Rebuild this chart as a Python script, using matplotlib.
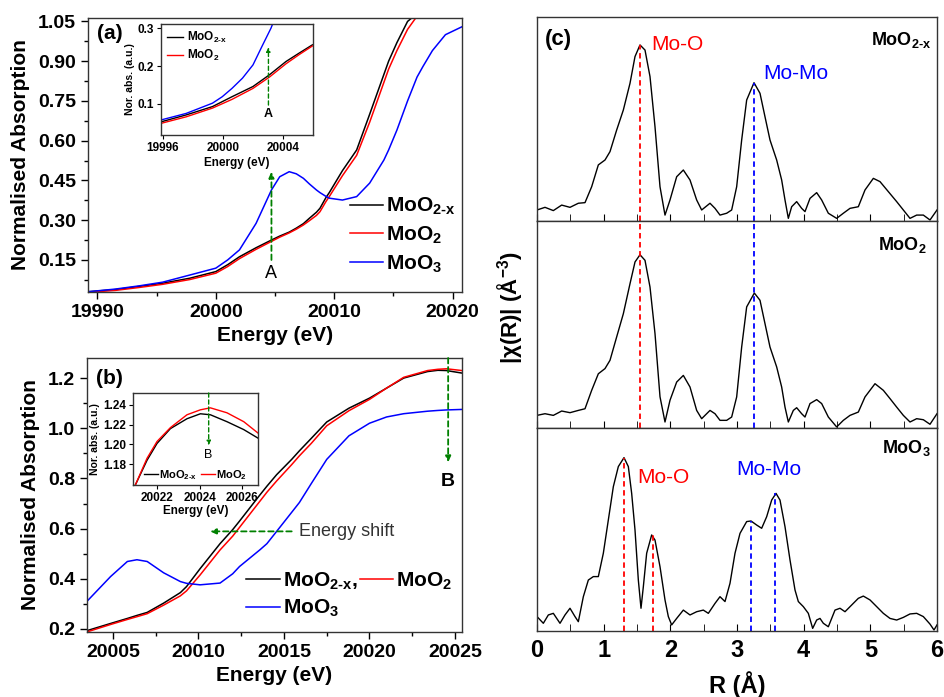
import matplotlib
matplotlib.use("Agg")
import matplotlib.pyplot as plt
from matplotlib.ticker import MultipleLocator, FormatStrFormatter

plt.rcParams['font.family'] = ['Liberation Sans', 'DejaVu Sans']
plt.rcParams['font.weight'] = 'bold'
plt.rcParams['axes.labelweight'] = 'bold'
plt.rcParams['mathtext.fontset'] = 'custom'
plt.rcParams['mathtext.rm'] = 'Liberation Sans:bold'
plt.rcParams['mathtext.it'] = 'Liberation Sans:bold'
plt.rcParams['mathtext.bf'] = 'Liberation Sans:bold'
plt.rcParams['axes.linewidth'] = 1.0
plt.rcParams['axes.edgecolor'] = '#333333'

# ---- panel (a): XANES pre-edge / edge
energy_a = [19989.2, 19991.5, 19993.5, 19995.5, 19997.8, 20000.0, 20001.0, 20002.0, 20003.4,
            20004.7, 20005.4, 20006.2, 20006.8, 20007.4, 20007.9, 20008.5, 20008.8, 20009.3,
            20009.6, 20010.7, 20011.9, 20013.0, 20014.2, 20014.6, 20015.3, 20016.2, 20017.0,
            20017.5, 20018.3, 20019.4, 20020.8]
moo2x_a = [0.030, 0.038, 0.050, 0.062, 0.081, 0.106, 0.132, 0.162, 0.196,
           0.225, 0.240, 0.255, 0.270, 0.287, 0.307, 0.330, 0.345, 0.385,
           0.405, 0.487, 0.565, 0.700, 0.850, 0.900, 0.970, 1.050, 1.080,
           1.100, 1.120, 1.130, 1.140]
moo2_a = [0.028, 0.035, 0.046, 0.058, 0.076, 0.100, 0.125, 0.155, 0.190,
          0.220, 0.236, 0.252, 0.266, 0.282, 0.298, 0.318, 0.332, 0.370,
          0.390, 0.468, 0.545, 0.670, 0.820, 0.870, 0.940, 1.020, 1.070,
          1.090, 1.110, 1.125, 1.135]
moo3_a = [0.030, 0.040, 0.052, 0.066, 0.093, 0.119, 0.150, 0.188, 0.288,
          0.414, 0.464, 0.483, 0.475, 0.458, 0.437, 0.414, 0.404, 0.390,
          0.383, 0.376, 0.389, 0.440, 0.527, 0.565, 0.640, 0.750, 0.840,
          0.880, 0.940, 1.000, 1.030]

# inset of (a)
energy_ai = [19995.9, 19997.55, 19999.3, 20000.6, 20002.0, 20003.1, 20004.2, 20005.07, 20005.96]
moo2x_ai = [0.053, 0.071, 0.093, 0.119, 0.146, 0.177, 0.212, 0.234, 0.256]
moo2_ai = [0.049, 0.066, 0.089, 0.112, 0.141, 0.171, 0.206, 0.230, 0.253]
energy_ai_moo3 = [19995.9, 19997.55, 19999.3, 19999.95, 20000.6, 20001.3, 20002.0, 20002.6, 20003.2, 20003.6]
moo3_ai = [0.058, 0.075, 0.102, 0.119, 0.141, 0.168, 0.203, 0.252, 0.300, 0.340]

# ---- panel (b): post-edge
energy_b = [20003.46, 20004.86, 20005.84, 20006.4, 20007.0, 20007.96, 20008.94, 20009.3, 20010.09,
            20011.26, 20012.0, 20012.4, 20013.6, 20014.0, 20014.57, 20015.45, 20015.9, 20016.6,
            20017.5, 20018.8, 20020.0, 20021.0, 20022.0, 20023.4, 20024.0, 20024.5, 20025.4]
moo2x_b = [0.193, 0.222, 0.242, 0.254, 0.266, 0.303, 0.345, 0.369, 0.440,
           0.540, 0.596, 0.630, 0.735, 0.769, 0.815, 0.876, 0.910, 0.960,
           1.025, 1.080, 1.120, 1.160, 1.200, 1.226, 1.231, 1.230, 1.220]
moo2_b = [0.188, 0.218, 0.238, 0.249, 0.261, 0.295, 0.332, 0.352, 0.415,
          0.515, 0.570, 0.605, 0.710, 0.745, 0.790, 0.855, 0.890, 0.940,
          1.010, 1.070, 1.115, 1.160, 1.203, 1.230, 1.235, 1.237, 1.230]
moo3_b = [0.309, 0.409, 0.469, 0.476, 0.469, 0.424, 0.389, 0.382, 0.376,
          0.383, 0.420, 0.449, 0.516, 0.540, 0.589, 0.665, 0.704, 0.780,
          0.876, 0.970, 1.020, 1.045, 1.058, 1.068, 1.071, 1.073, 1.075]

# inset of (b)
energy_bi = [20020.98, 20021.53, 20022.0, 20022.63, 20023.41, 20024.04, 20024.51, 20025.29, 20026.08, 20026.78]
moo2x_bi = [1.159, 1.184, 1.201, 1.216, 1.226, 1.231, 1.230, 1.223, 1.215, 1.206]
moo2_bi = [1.159, 1.186, 1.203, 1.217, 1.230, 1.235, 1.237, 1.232, 1.223, 1.211]

# ---- panel (c): FT-EXAFS |chi(R)|
r_top = [0.0, 0.12, 0.245, 0.37, 0.495, 0.62, 0.72, 0.82, 0.92, 1.02, 1.095, 1.195, 1.295, 1.395,
         1.47, 1.545, 1.62, 1.695, 1.77, 1.845, 1.92, 1.995, 2.095, 2.195, 2.295, 2.395, 2.47,
         2.595, 2.67, 2.745, 2.845, 2.92, 2.995, 3.07, 3.145, 3.255, 3.345, 3.42, 3.495, 3.595,
         3.67, 3.72, 3.77, 3.82, 3.895, 3.97, 4.02, 4.095, 4.195, 4.27, 4.37, 4.495, 4.595,
         4.695, 4.82, 4.92, 5.045, 5.145, 5.27, 5.395, 5.495, 5.595, 5.695, 5.795, 5.895, 6.0]
chi_moo2x = [0.054, 0.067, 0.051, 0.078, 0.067, 0.087, 0.090, 0.168, 0.275, 0.299, 0.340, 0.446,
             0.544, 0.675, 0.806, 0.863, 0.838, 0.708, 0.462, 0.168, 0.029, 0.103, 0.217, 0.250,
             0.201, 0.103, 0.054, 0.087, 0.062, 0.029, 0.038, 0.054, 0.168, 0.397, 0.593, 0.678,
             0.626, 0.511, 0.397, 0.299, 0.201, 0.103, 0.013, 0.070, 0.095, 0.062, 0.046, 0.111,
             0.139, 0.103, 0.038, 0.013, 0.038, 0.062, 0.070, 0.152, 0.209, 0.193, 0.144, 0.095,
             0.054, 0.013, 0.029, 0.029, 0.005, 0.054]
r_mid = [0.0, 0.12, 0.245, 0.37, 0.495, 0.62, 0.72, 0.82, 0.92, 1.02, 1.095, 1.195, 1.295, 1.395,
         1.47, 1.545, 1.62, 1.695, 1.77, 1.845, 1.92, 1.995, 2.095, 2.195, 2.295, 2.395, 2.47,
         2.595, 2.67, 2.745, 2.845, 2.92, 2.995, 3.07, 3.145, 3.26, 3.345, 3.42, 3.495, 3.595,
         3.67, 3.72, 3.77, 3.845, 3.895, 3.97, 4.02, 4.095, 4.195, 4.27, 4.37, 4.495, 4.595,
         4.695, 4.82, 4.92, 5.07, 5.195, 5.295, 5.395, 5.495, 5.595, 5.695, 5.795, 5.895, 6.0]
chi_moo2 = [0.061, 0.069, 0.061, 0.082, 0.074, 0.085, 0.093, 0.182, 0.262, 0.287, 0.327, 0.440,
            0.552, 0.697, 0.802, 0.837, 0.810, 0.681, 0.456, 0.151, 0.029, 0.134, 0.222, 0.254,
            0.198, 0.085, 0.045, 0.085, 0.069, 0.037, 0.037, 0.053, 0.150, 0.391, 0.585, 0.652,
            0.617, 0.504, 0.391, 0.295, 0.198, 0.101, 0.029, 0.085, 0.098, 0.069, 0.053, 0.118,
            0.137, 0.118, 0.053, 0.005, 0.037, 0.061, 0.077, 0.150, 0.214, 0.182, 0.142, 0.101,
            0.061, 0.029, 0.045, 0.040, 0.018, 0.069]
r_bot = [0.0, 0.095, 0.17, 0.245, 0.345, 0.42, 0.495, 0.57, 0.62, 0.695,
         0.77, 0.845, 0.92, 0.995, 1.07, 1.145, 1.22, 1.305, 1.37, 1.42,
         1.47, 1.52, 1.56, 1.595, 1.645, 1.72, 1.77, 1.845, 1.92, 1.97,
         2.02, 2.095, 2.195, 2.295, 2.395, 2.495, 2.57, 2.67, 2.745, 2.82,
         2.895, 2.97, 3.045, 3.145, 3.21, 3.295, 3.37, 3.445, 3.52, 3.585,
         3.645, 3.72, 3.795, 3.87, 3.92, 3.995, 4.07, 4.135, 4.195, 4.245,
         4.295, 4.37, 4.47, 4.545, 4.62, 4.72, 4.82, 4.895, 4.995, 5.095,
         5.195, 5.295, 5.395, 5.495, 5.595, 5.695, 5.795, 5.895, 5.955, 6.0]
chi_moo3 = [0.071, 0.038, 0.079, 0.087, 0.038, 0.079, 0.112, 0.071, 0.046, 0.169,
            0.251, 0.268, 0.268, 0.383, 0.547, 0.711, 0.810, 0.854, 0.810, 0.678,
            0.498, 0.251, 0.112, 0.218, 0.383, 0.473, 0.448, 0.317, 0.153, 0.071,
            0.030, 0.062, 0.103, 0.079, 0.095, 0.103, 0.087, 0.136, 0.169, 0.145,
            0.235, 0.383, 0.481, 0.539, 0.542, 0.522, 0.506, 0.563, 0.645, 0.678,
            0.645, 0.514, 0.350, 0.202, 0.145, 0.120, 0.087, 0.013, 0.054, 0.062,
            0.038, 0.021, 0.103, 0.112, 0.095, 0.128, 0.161, 0.172, 0.153, 0.120,
            0.087, 0.062, 0.054, 0.067, 0.084, 0.087, 0.071, 0.034, 0.005, 0.030]

# peak positions marked with dashed lines (R, height)
moo_peak_top = [(1.545, 0.863)]
momo_peak_top = [(3.255, 0.678)]
moo_peaks_bot = [(1.305, 0.854), (1.745, 0.473)]
momo_peaks_bot = [(3.21, 0.542), (3.57, 0.678)]

W, H = 944, 697
fig = plt.figure(figsize=(W / 100, H / 100), dpi=100)


def box(l, t, r, b):
    return [l / W, 1 - b / H, (r - l) / W, (b - t) / H]


GREEN = '#008000'
LBL_X = r"MoO$_{2\text{-}x}$"
LBL_2 = r"MoO$_2$"
LBL_3 = r"MoO$_3$"


def green_arrow(ax, x0, y0, x1, y1, lw=1.3, head=0.35):
    ax.annotate('', xy=(x1, y1), xytext=(x0, y0),
                arrowprops=dict(arrowstyle='-|>,head_length=%g,head_width=%g' % (head, head * 0.45),
                                color=GREEN, lw=lw, linestyle=(0, (3, 2)),
                                shrinkA=0, shrinkB=0))


def style_xanes(ax, size=14):
    ax.tick_params(which='both', direction='out', top=False, right=False, labelsize=size)
    ax.tick_params(which='major', length=5, width=1)
    ax.tick_params(which='minor', length=3, width=1)
    ax.xaxis.set_major_formatter(FormatStrFormatter('%d'))


# ---------------- (a)
ax_a = fig.add_axes(box(88, 18, 462, 292))
ax_a.plot(energy_a, moo2x_a, color='black', lw=1.1, label=LBL_X)
ax_a.plot(energy_a, moo2_a, color='red', lw=1.1, label=LBL_2)
ax_a.plot(energy_a, moo3_a, color='blue', lw=1.1, label=LBL_3)
ax_a.set_xlim(19989.2, 20020.8)
ax_a.set_ylim(0.029, 1.063)
ax_a.set_xticks([19990, 20000, 20010, 20020])
ax_a.xaxis.set_minor_locator(MultipleLocator(5))
ax_a.set_yticks([0.15, 0.30, 0.45, 0.60, 0.75, 0.90, 1.05])
ax_a.yaxis.set_minor_locator(MultipleLocator(0.075))
ax_a.yaxis.set_major_formatter(FormatStrFormatter('%.2f'))
style_xanes(ax_a)
ax_a.set_xlabel('Energy (eV)', fontsize=15, labelpad=4)
ax_a.set_ylabel('Normalised Absorption', fontsize=15, labelpad=6)
ax_a.legend(loc='upper left', bbox_to_anchor=(0.70, 0.35), frameon=False, fontsize=15,
            handlelength=1.6, handletextpad=0.15, labelspacing=0.35, borderpad=0, borderaxespad=0)
ax_a.text(0.024, 0.945, '(a)', transform=ax_a.transAxes, fontsize=15, va='center', ha='left')
green_arrow(ax_a, 20004.7, 0.15, 20004.7, 0.483)
ax_a.text(20004.7, 0.10, 'A', fontsize=13, fontweight='normal', ha='center', va='center')

ins_a = fig.add_axes(box(161, 24, 313, 135))
ins_a.plot(energy_ai, moo2x_ai, color='black', lw=1.0, label=LBL_X)
ins_a.plot(energy_ai, moo2_ai, color='red', lw=1.0, label=LBL_2)
ins_a.plot(energy_ai_moo3, moo3_ai, color='blue', lw=1.0)
ins_a.set_xlim(19995.87, 20006.0)
ins_a.set_ylim(0.018, 0.311)
ins_a.set_xticks([19996, 20000, 20004])
ins_a.xaxis.set_major_formatter(FormatStrFormatter('%d'))
ins_a.set_yticks([0.1, 0.2, 0.3])
ins_a.tick_params(direction='out', length=3, labelsize=8.5, pad=2)
ins_a.set_xlabel('Energy (eV)', fontsize=8.5, labelpad=2)
ins_a.set_ylabel('Nor. abs. (a.u.)', fontsize=7.5, labelpad=2)
ins_a.legend(loc='upper left', frameon=False, fontsize=8.5, handlelength=1.4,
             handletextpad=0.3, labelspacing=0.25, borderpad=0.3, borderaxespad=0.2)
green_arrow(ins_a, 20003.03, 0.097, 20003.03, 0.25, lw=1.0, head=0.25)
ins_a.text(20003.03, 0.074, 'A', fontsize=9, ha='center', va='center')

# ---------------- (b)
ax_b = fig.add_axes(box(87, 358, 462, 632))
l1, = ax_b.plot(energy_b, moo2x_b, color='black', lw=1.1)
l2, = ax_b.plot(energy_b, moo2_b, color='red', lw=1.1)
l3, = ax_b.plot(energy_b, moo3_b, color='blue', lw=1.1)
ax_b.set_xlim(20003.48, 20025.41)
ax_b.set_ylim(0.188, 1.28)
ax_b.set_xticks([20005, 20010, 20015, 20020, 20025])
ax_b.xaxis.set_minor_locator(MultipleLocator(2.5))
ax_b.set_yticks([0.2, 0.4, 0.6, 0.8, 1.0, 1.2])
ax_b.yaxis.set_minor_locator(MultipleLocator(0.1))
ax_b.yaxis.set_major_formatter(FormatStrFormatter('%.1f'))
style_xanes(ax_b)
ax_b.set_xlabel('Energy (eV)', fontsize=15, labelpad=4)
ax_b.set_ylabel('Normalised Absorption', fontsize=15, labelpad=6)
ax_b.legend([l1, l3, l2], [LBL_X + ',', LBL_3, LBL_2], ncol=2, loc='upper left',
            bbox_to_anchor=(0.425, 0.225), frameon=False, fontsize=15, handlelength=1.6,
            handletextpad=0.15, labelspacing=0.3, columnspacing=0.1, borderpad=0, borderaxespad=0)
ax_b.text(0.024, 0.925, '(b)', transform=ax_b.transAxes, fontsize=15, va='center', ha='left')
green_arrow(ax_b, 20024.6, 1.28, 20024.6, 0.864)
ax_b.text(20024.6, 0.788, 'B', fontsize=14, ha='center', va='center')
green_arrow(ax_b, 20015.45, 0.589, 20010.67, 0.589)
ax_b.text(20015.9, 0.589, 'Energy shift', fontsize=13, fontweight='normal', color='#333333',
          ha='left', va='center')

ins_b = fig.add_axes(box(133, 393, 258, 485))
ib1, = ins_b.plot(energy_bi, moo2x_bi, color='black', lw=1.0)
ib2, = ins_b.plot(energy_bi, moo2_bi, color='red', lw=1.0)
ins_b.set_xlim(20020.87, 20026.75)
ins_b.set_ylim(1.159, 1.252)
ins_b.set_xticks([20022, 20024, 20026])
ins_b.xaxis.set_major_formatter(FormatStrFormatter('%d'))
ins_b.set_yticks([1.18, 1.20, 1.22, 1.24])
ins_b.yaxis.set_major_formatter(FormatStrFormatter('%.2f'))
ins_b.tick_params(direction='out', length=3, labelsize=8.5, pad=2)
ins_b.set_xlabel('Energy (eV)', fontsize=8.5, labelpad=1)
ins_b.set_ylabel('Nor. abs. (a.u.)', fontsize=7.5, labelpad=2)
ins_b.legend([ib1, ib2], [LBL_X, LBL_2], ncol=2, loc='lower center', frameon=False, fontsize=8,
             handlelength=1.2, handletextpad=0.1, columnspacing=0.4, borderpad=0.2, borderaxespad=0.1)
green_arrow(ins_b, 20024.43, 1.252, 20024.43, 1.199, lw=1.0, head=0.25)
ins_b.text(20024.43, 1.189, 'B', fontsize=9, fontweight='normal', ha='center', va='center')

# ---------------- (c)
edges = [17, 221, 428, 631]
axes_c = []
for i in range(3):
    ax = fig.add_axes(box(537, edges[i], 937, edges[i + 1]))
    ax.set_xlim(0, 6)
    ax.set_ylim(0, 1)
    ax.set_yticks([])
    ax.xaxis.set_major_locator(MultipleLocator(1))
    ax.xaxis.set_minor_locator(MultipleLocator(0.5))
    ax.tick_params(which='both', direction='in', top=False, labelsize=17,
                   labelbottom=(i == 2), pad=6)
    ax.tick_params(which='major', length=5)
    ax.tick_params(which='minor', length=5)
    axes_c.append(ax)

axc1, axc2, axc3 = axes_c
axc1.plot(r_top, chi_moo2x, color='black', lw=1.0)
axc2.plot(r_mid, chi_moo2, color='black', lw=1.0)
axc3.plot(r_bot, chi_moo3, color='black', lw=1.0)

dash = (0, (3, 2))
for r, h in moo_peak_top:
    axc1.vlines(r, 0, h, colors='red', linestyles=dash, lw=1.3)
    axc2.axvline(r, color='red', linestyle=dash, lw=1.3)
for r, h in momo_peak_top:
    axc1.vlines(r, 0, h, colors='blue', linestyles=dash, lw=1.3)
    axc2.axvline(r, color='blue', linestyle=dash, lw=1.3)
for r, h in moo_peaks_bot:
    axc3.vlines(r, 0, h, colors='red', linestyles=dash, lw=1.3)
for r, h in momo_peaks_bot:
    axc3.vlines(r, 0, h, colors='blue', linestyles=dash, lw=1.3)

axc1.text(0.12, 0.89, '(c)', fontsize=16, va='center', ha='left')
axc1.text(1.72, 0.863, 'Mo-O', color='red', fontsize=15, fontweight='normal', va='center')
axc1.text(3.395, 0.724, 'Mo-Mo', color='blue', fontsize=15, fontweight='normal', va='center')
axc1.text(5.92, 0.887, LBL_X, fontsize=13, ha='right', va='center')
axc2.text(5.85, 0.882, LBL_2, fontsize=13, ha='right', va='center')
axc3.text(5.9, 0.90, LBL_3, fontsize=13, ha='right', va='center')
axc3.text(1.505, 0.757, 'Mo-O', color='red', fontsize=15, fontweight='normal', va='center')
axc3.text(2.995, 0.796, 'Mo-Mo', color='blue', fontsize=15, fontweight='normal', va='center')
axc3.set_xlabel('R (Å)', fontsize=17, fontweight='bold', labelpad=6)
fig.text(510 / W, 1 - 308 / H, '|χ(R)| (Å$^{-3}$)', rotation=90, fontsize=16,
         fontweight='bold', ha='center', va='center')

fig.savefig('out.png', dpi=100)
